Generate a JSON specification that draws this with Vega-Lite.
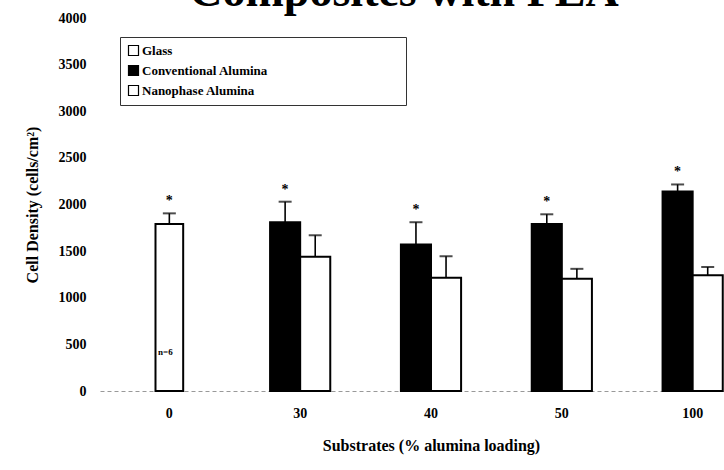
{
  "$schema": "https://vega.github.io/schema/vega-lite/v6.json",
  "autosize": {"type": "none"},
  "padding": {"left": 100, "top": 18, "right": 0, "bottom": 79},
  "width": 624,
  "height": 373,
  "background": "white",
  "config": {
    "view": {"stroke": null},
    "font": "Liberation Serif",
    "text": {"color": "black"},
    "axis": {"labelFont": "Liberation Serif", "titleFont": "Liberation Serif", "labelFontWeight": "bold", "titleFontWeight": "bold", "labelColor": "black", "titleColor": "black", "grid": false, "ticks": false}
  },
  "data": {"values": [
    {"sub": "0", "series": "Glass", "mean": 1790, "upper": 1905, "star": "*"},
    {"sub": "30", "series": "Conventional Alumina", "mean": 1810, "upper": 2030, "star": "*"},
    {"sub": "30", "series": "Nanophase Alumina", "mean": 1440, "upper": 1670, "star": ""},
    {"sub": "40", "series": "Conventional Alumina", "mean": 1570, "upper": 1810, "star": "*"},
    {"sub": "40", "series": "Nanophase Alumina", "mean": 1215, "upper": 1445, "star": ""},
    {"sub": "50", "series": "Conventional Alumina", "mean": 1790, "upper": 1895, "star": "*"},
    {"sub": "50", "series": "Nanophase Alumina", "mean": 1205, "upper": 1310, "star": ""},
    {"sub": "100", "series": "Conventional Alumina", "mean": 2140, "upper": 2215, "star": "*"},
    {"sub": "100", "series": "Nanophase Alumina", "mean": 1240, "upper": 1330, "star": ""}
  ]},
  "encoding": {
    "x": {"field": "sub", "type": "nominal", "sort": ["0", "30", "40", "50", "100"],
      "scale": {"type": "band", "range": [0, 662], "paddingInner": 0.54, "paddingOuter": 0.3},
      "axis": {"title": "Substrates (% alumina loading)", "labelAngle": 0, "labelFontSize": 14, "titleFontSize": 16, "labelPadding": 15, "titlePadding": 17, "domainColor": "#999", "domainDash": [4, 3], "domainWidth": 1}},
    "y": {"field": "mean", "type": "quantitative", "scale": {"domain": [0, 4000], "nice": false},
      "axis": {"title": "Cell Density (cells/cm²)", "format": "d", "values": [0, 500, 1000, 1500, 2000, 2500, 3000, 3500, 4000], "domain": false, "labelFontSize": 14, "titleFontSize": 16, "labelPadding": 14, "titlePadding": 18}}
  },
  "layer": [
    {
      "transform": [{"filter": "datum.series === 'Glass'"}],
      "layer": [
        {"mark": {"type": "bar", "width": {"band": 0.46}, "stroke": "black", "strokeWidth": 2},
          "encoding": {"color": {"field": "series", "type": "nominal",
            "scale": {"domain": ["Glass", "Conventional Alumina", "Nanophase Alumina"], "range": ["white", "black", "white"]},
            "legend": {"title": null, "orient": "none", "legendX": 20, "legendY": 19, "symbolType": "square", "symbolSize": 100, "symbolStrokeColor": "black", "symbolStrokeWidth": 1.2, "labelFont": "Liberation Serif", "labelFontWeight": "bold", "labelFontSize": 13, "labelColor": "black", "rowPadding": 5, "padding": 7, "strokeColor": "#333", "fillColor": "white", "labelOffset": 2, "labelExpr": "datum.label + '\u2003\u2003\u2003\u2003\u2003\u2003\u2003\u2003\u2003\u2003\u200b'", "labelLimit": 500}}}},
        {"mark": {"type": "rule", "color": "black", "strokeWidth": 1.6}, "encoding": {"y2": {"field": "upper"}}},
        {"mark": {"type": "tick", "color": "black", "thickness": 2, "size": 13, "orient": "horizontal"}, "encoding": {"y": {"field": "upper", "type": "quantitative"}}},
        {"mark": {"type": "text", "fontSize": 14, "fontWeight": "bold", "dy": -12, "baseline": "middle", "color": "black"}, "encoding": {"y": {"field": "upper", "type": "quantitative"}, "text": {"field": "star"}}}
      ]
    },
    {
      "transform": [{"filter": "datum.series !== 'Glass'"}],
      "encoding": {"xOffset": {"field": "series", "type": "nominal", "scale": {"domain": ["Conventional Alumina", "Nanophase Alumina"], "paddingInner": 0, "paddingOuter": 0}}},
      "layer": [
        {"mark": {"type": "bar", "stroke": "black", "strokeWidth": 2},
          "encoding": {"color": {"field": "series", "type": "nominal"}}},
        {"mark": {"type": "rule", "color": "black", "strokeWidth": 1.6}, "encoding": {"y2": {"field": "upper"}}},
        {"mark": {"type": "tick", "color": "black", "thickness": 2, "size": 13, "orient": "horizontal"}, "encoding": {"y": {"field": "upper", "type": "quantitative"}}},
        {"mark": {"type": "text", "fontSize": 14, "fontWeight": "bold", "dy": -12, "baseline": "middle", "color": "black"}, "encoding": {"y": {"field": "upper", "type": "quantitative"}, "text": {"field": "star"}}}
      ]
    },
    {
      "data": {"values": [{"sub": "0", "label": "n=6", "pos": 420}]},
      "mark": {"type": "text", "fontSize": 9, "fontWeight": "bold", "align": "center", "dx": -4, "color": "black"},
      "encoding": {"x": {"field": "sub", "type": "nominal", "sort": ["0", "30", "40", "50", "100"]}, "y": {"field": "pos", "type": "quantitative"}, "text": {"field": "label"}}
    },
    {
      "data": {"values": [{"sub": "40", "label": "Composites with PLA", "pos": 4130}]},
      "mark": {"type": "text", "fontSize": 46, "fontWeight": "bold", "font": "Liberation Serif", "align": "center", "baseline": "alphabetic", "dx": -27, "color": "black", "clip": false},
      "encoding": {"x": {"field": "sub", "type": "nominal", "sort": ["0", "30", "40", "50", "100"]}, "y": {"field": "pos", "type": "quantitative"}, "text": {"field": "label"}}
    }
  ]
}
